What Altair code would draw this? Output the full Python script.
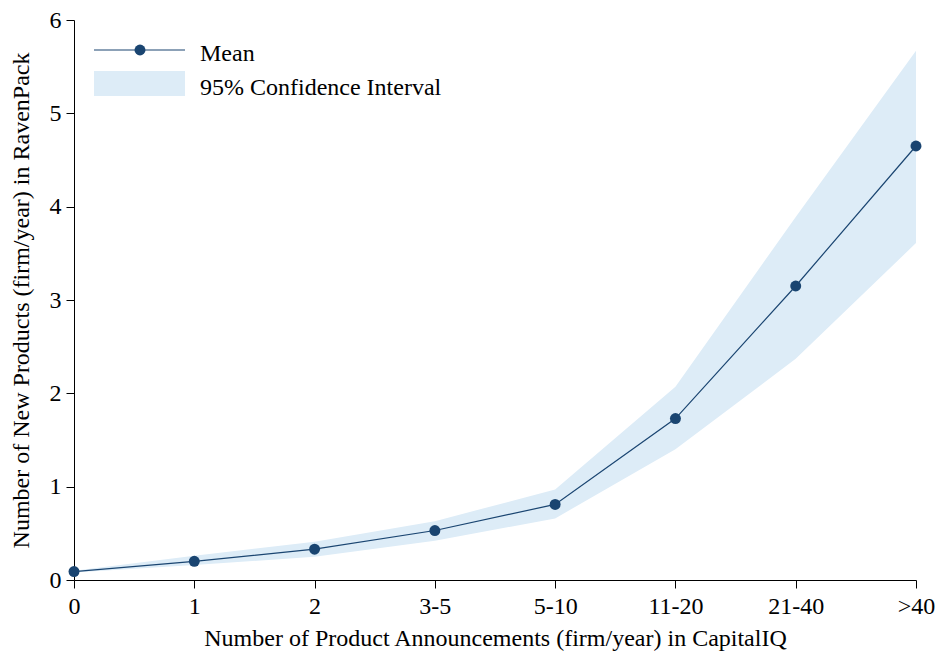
import altair as alt
import pandas as pd

categories = ["0", "1", "2", "3-5", "5-10", "11-20", "21-40", ">40"]
mean_vals = [0.09, 0.20, 0.33, 0.53, 0.81, 1.73, 3.15, 4.65]
ci_lower = [0.08, 0.16, 0.25, 0.42, 0.66, 1.40, 2.37, 3.61]
ci_upper = [0.10, 0.26, 0.41, 0.63, 0.97, 2.07, 3.89, 5.67]
y_ticks = [0, 1, 2, 3, 4, 5, 6]

df = pd.DataFrame({"cat": categories, "mean": mean_vals, "lo": ci_lower, "hi": ci_upper})

FONT = "Liberation Serif"
FS = 24
LINE = "#1a4571"
FILL = "#ddecf7"

x = alt.X("cat:N", sort=categories,
          scale=alt.Scale(type="point", padding=0),
          axis=alt.Axis(title="Number of Product Announcements (firm/year) in CapitalIQ",
                        labelAngle=0, tickSize=8, labelPadding=6, titlePadding=8))
yscale = alt.Scale(domain=[0, 6], nice=False)
yaxis = alt.Axis(title="Number of New Products (firm/year) in RavenPack",
                 values=y_ticks, format="d", tickSize=8, labelPadding=5, titlePadding=16)

base = alt.Chart(df)
band = base.mark_area(color=FILL, opacity=1).encode(
    x=x, y=alt.Y("lo:Q", scale=yscale, axis=yaxis), y2="hi:Q")
line = base.mark_line(color=LINE, strokeWidth=1.2).encode(x=x, y=alt.Y("mean:Q", scale=yscale))
pts = base.mark_circle(color=LINE, size=120, opacity=1).encode(x=x, y=alt.Y("mean:Q", scale=yscale))

one = pd.DataFrame({"k": [0]})
leg_line = alt.Chart(one).mark_rule(color=LINE, strokeWidth=1.2).encode(
    x=alt.value(20), x2=alt.value(111), y=alt.value(30))
leg_pt = alt.Chart(one).mark_circle(color=LINE, size=120, opacity=1).encode(
    x=alt.value(66), y=alt.value(30))
leg_rect = alt.Chart(one).mark_rect(color=FILL).encode(
    x=alt.value(20), x2=alt.value(111), y=alt.value(51), y2=alt.value(76))
leg_t1 = alt.Chart(one).mark_text(align="left", baseline="middle", font=FONT, fontSize=FS,
                                  color="black").encode(
    x=alt.value(126), y=alt.value(34), text=alt.value("Mean"))
leg_t2 = alt.Chart(one).mark_text(align="left", baseline="middle", font=FONT, fontSize=FS,
                                  color="black").encode(
    x=alt.value(126), y=alt.value(68), text=alt.value("95% Confidence Interval"))

chart = alt.layer(band, line, pts, leg_line, leg_pt, leg_rect, leg_t1, leg_t2).properties(
    width=842, height=560,
    autosize=alt.AutoSizeParams(type="none"),
    padding={"left": 66, "top": 12, "right": 19, "bottom": 73},
).configure_view(stroke=None).configure_axis(
    grid=False, domainColor="black", tickColor="black", domainWidth=1, tickWidth=1,
    labelFont=FONT, titleFont=FONT, labelFontSize=FS, titleFontSize=FS,
    labelColor="black", titleColor="black", titleFontWeight="normal",
)

chart.save("out.html", embed_options={"renderer": "svg", "actions": False})
